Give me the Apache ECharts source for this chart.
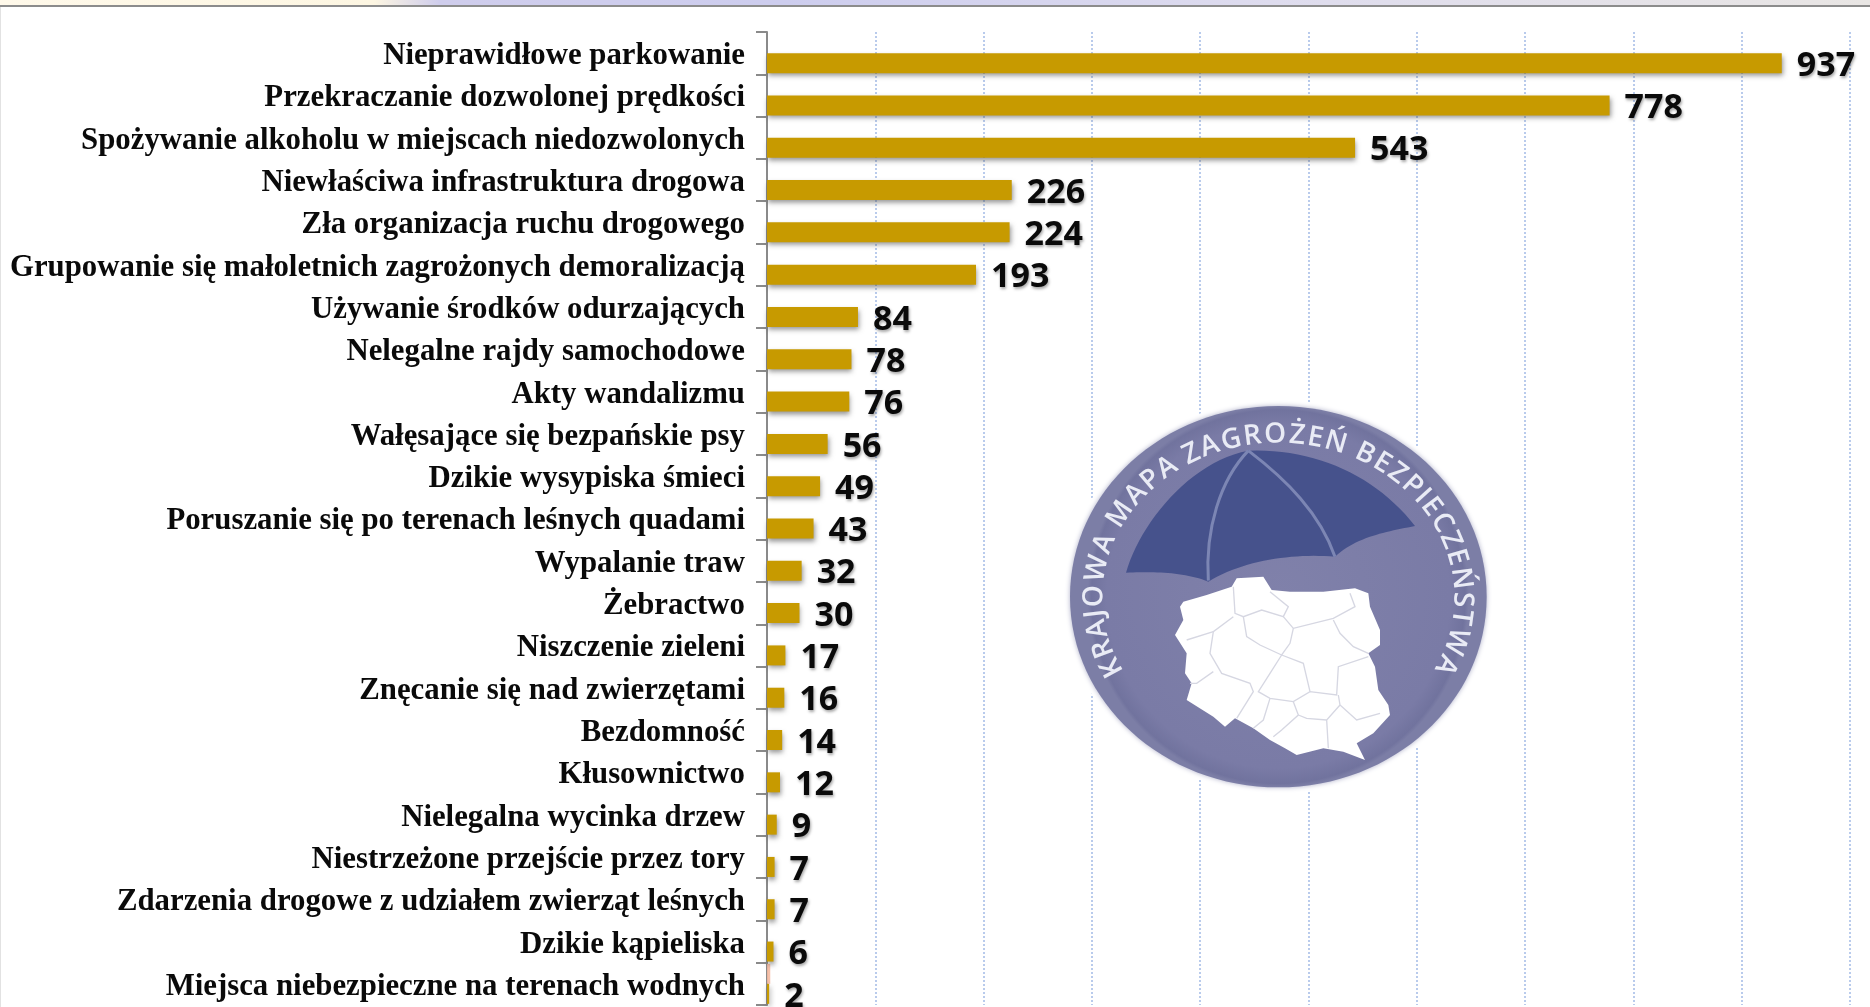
<!DOCTYPE html>
<html>
<head>
<meta charset="utf-8">
<style>html,body{margin:0;padding:0;background:#fff}#c{width:1870px;height:1007px}</style>
<script src="https://cdn.jsdelivr.net/npm/echarts@6/dist/echarts.min.js"></script>
</head>
<body>
<div id="c"></div>
<script>
const categories = ["Nieprawidłowe parkowanie","Przekraczanie dozwolonej prędkości","Spożywanie alkoholu w miejscach niedozwolonych","Niewłaściwa infrastruktura drogowa","Zła organizacja ruchu drogowego","Grupowanie się małoletnich zagrożonych demoralizacją","Używanie środków odurzających","Nelegalne rajdy samochodowe","Akty wandalizmu","Wałęsające się bezpańskie psy","Dzikie wysypiska śmieci","Poruszanie się po terenach leśnych quadami","Wypalanie traw","Żebractwo","Niszczenie zieleni","Znęcanie się nad zwierzętami","Bezdomność","Kłusownictwo","Nielegalna wycinka drzew","Niestrzeżone przejście przez tory","Zdarzenia drogowe z udziałem zwierząt leśnych","Dzikie kąpieliska","Miejsca niebezpieczne na terenach wodnych"];
const values = [937,778,543,226,224,193,84,78,76,56,49,43,32,30,17,16,14,12,9,7,7,6,2];
const otherValues = [null,null,null,null,null,null,null,null,null,null,null,null,null,null,null,null,null,null,null,null,null,null,3];

const logoText = "KRAJOWA MAPA ZAGROŻEŃ BEZPIECZEŃSTWA";
const polandOutline = [[430,635],[500,615],[575,590],[590,565],[670,560],[695,600],[750,605],[850,605],[945,595],[985,610],[990,650],[1020,720],[1020,765],[985,790],[1005,830],[1015,900],[1045,945],[1050,975],[1000,1030],[950,1060],[975,1110],[910,1085],[850,1075],[770,1095],[735,1075],[690,1050],[640,1015],[585,985],[555,1010],[520,980],[440,930],[455,880],[435,850],[440,790],[405,735],[430,690],[420,650]];
const polandBorders = [
 [[580,590],[585,670],[610,680],[665,660],[730,680],[745,650],[690,605]],
 [[730,680],[760,715],[880,685],[945,650],[930,610]],
 [[880,690],[900,730],[940,770],[985,790]],
 [[760,715],[750,760],[725,795],[660,765],[620,740],[610,680]],
 [[580,680],[520,725],[510,790],[545,850],[630,880],[640,905],[590,985]],
 [[520,725],[440,750]],
 [[520,845],[470,880],[450,880]],
 [[725,795],[690,850],[655,905],[690,925],[760,935],[810,905],[890,915],[895,830],[985,800]],
 [[725,795],[790,820],[810,905]],
 [[760,935],[775,975],[725,1020],[700,1040]],
 [[690,925],[670,990],[640,1015]],
 [[895,915],[900,945],[950,990],[1020,970]],
 [[900,945],[860,990],[865,1075]],
 [[860,990],[800,985],[775,975]]
];
const umbrellaCurves = [
 [[258,548],[300,400],[450,215],[625,182]],
 [[625,182],[830,175],[1010,260],[1125,408]],
 [[1125,408],[1040,425],[950,440],[885,500]],
 [[885,500],[760,490],[610,510],[505,575]],
 [[505,575],[430,545],[340,545],[258,548]]
];
const umbrellaRibs = [
 [[625,182],[540,270],[495,420],[505,572]],
 [[625,182],[740,270],[840,370],[885,500]]
];

function sample(c){
  const pts=[];
  for(let i=0;i<24;i++){
    const t=i/24,u=1-t;
    pts.push([0,1].map(k=>u*u*u*c[0][k]+3*u*u*t*c[1][k]+3*u*t*t*c[2][k]+t*t*t*c[3][k]));
  }
  return pts;
}
const umbrellaPts = umbrellaCurves.reduce((a,c)=>a.concat(sample(c)),[]);

// curved ring text placed along an ellipse, in logo-local coordinates
function ringText(){
  const cx=715,cy=622,rx=552,ry=488,fs=84;
  const ctx=document.createElement('canvas').getContext('2d');
  const font='600 '+fs+'px "Open Sans"';
  ctx.font=font;
  const start=-119*Math.PI/180,end=118*Math.PI/180;
  const N=2000,tab=[0];
  const P=a=>[cx+rx*Math.sin(a),cy-ry*Math.cos(a)];
  for(let i=1;i<=N;i++){
    const a=start+(end-start)*i/N,b=start+(end-start)*(i-1)/N;
    const p=P(a),q=P(b);
    tab.push(tab[i-1]+Math.hypot(p[0]-q[0],p[1]-q[1]));
  }
  const widths=[...logoText].map(ch=>ctx.measureText(ch).width);
  const total=widths.reduce((s,w)=>s+w,0);
  const k=tab[N]/total;
  let run=0;const out=[];
  [...logoText].forEach((ch,i)=>{
    const target=run+widths[i]*k/2;run+=widths[i]*k;
    if(ch===' ')return;
    let j=0;while(j<N&&tab[j]<target)j++;
    const a=start+(end-start)*j/N,p=P(a);
    const tx=rx*Math.cos(a),ty=ry*Math.sin(a);
    out.push({type:'text',x:p[0],y:p[1],rotation:-Math.atan2(ty,tx),
      style:{text:ch,font:font,fill:'#e9ebf5',align:'center',verticalAlign:'middle'}});
  });
  return out;
}

const chart = echarts.init(document.getElementById('c'));
chart.setOption({
  animation:false,
  backgroundColor:'#ffffff',
  grid:{left:767,top:32,width:1083,height:973,containLabel:false},
  xAxis:{type:'value',min:0,max:1000,interval:100,position:'top',
    axisLabel:{show:false},axisLine:{show:false},axisTick:{show:false},
    splitLine:{show:true,lineStyle:{color:'#b9cbec',width:2,type:[2,2]}}},
  yAxis:{type:'category',inverse:true,data:categories,
    axisLine:{show:true,lineStyle:{color:'#8a8a8a',width:2}},
    axisTick:{show:true,length:11,lineStyle:{color:'#8a8a8a',width:2}},
    axisLabel:{interval:0,margin:22,formatter:v=>'{t|'+v+'}',
      rich:{t:{padding:[6,0,0,0],fontFamily:'"Liberation Serif"',fontWeight:'bold',fontSize:30.8,color:'#0a0a0a'}}}},
  series:[
    {type:'bar',data:otherValues,barWidth:20,barGap:'0%',silent:true,
     itemStyle:{color:'#f4b9a0',opacity:.9}},
    {type:'bar',data:values,barWidth:20,barGap:'0%',silent:true,
     itemStyle:{color:'#c79a00',shadowColor:'rgba(60,60,60,.55)',shadowBlur:5,shadowOffsetY:3,shadowOffsetX:1},
     label:{show:true,position:'right',distance:15,offset:[0,3],fontFamily:'"Open Sans"',fontWeight:'bold',fontSize:34,color:'#0a0a0a',
       textShadowColor:'rgba(0,0,0,.35)',textShadowBlur:3,textShadowOffsetY:2,textShadowOffsetX:1}}
  ],
  graphic:{elements:[
    {type:'rect',z:50,shape:{x:0,y:0,width:1870,height:5},style:{fill:new echarts.graphic.LinearGradient(0,0,1,0,[
      {offset:0,color:'#fff9ea'},{offset:.2,color:'#fdf6e2'},{offset:.235,color:'#cfcdec'},{offset:.42,color:'#cdcdee'},{offset:.68,color:'#dedcee'},{offset:1,color:'#e9e6e4'}])}},
    {type:'rect',z:50,shape:{x:0,y:5,width:1870,height:2},style:{fill:'#8c8c8c'}},
    {type:'rect',z:50,shape:{x:0,y:7,width:1,height:1000},style:{fill:'#e2e2e2'}},
    {type:'group',x:1040,y:390,scaleX:1/3,scaleY:1/3,z:100,children:[
      {type:'ellipse',z:100,shape:{cx:715,cy:620,rx:645,ry:590},style:{fill:'#ffffff'}},
      {type:'ellipse',z:100,shape:{cx:715,cy:620,rx:625,ry:572},
        style:{fill:new echarts.graphic.RadialGradient(.5,.5,.5,[{offset:0,color:'#8081aa'},{offset:.9,color:'#7a7ba6'},{offset:.98,color:'#71739e'},{offset:1,color:'#7c7ea6'}]),
               shadowColor:'rgba(120,122,165,.6)',shadowBlur:5}},
      {type:'polygon',z:101,shape:{points:umbrellaPts},style:{fill:'#46528c'}},
      ...umbrellaRibs.map(r=>({type:'bezierCurve',z:102,shape:{x1:r[0][0],y1:r[0][1],cpx1:r[1][0],cpy1:r[1][1],cpx2:r[2][0],cpy2:r[2][1],x2:r[3][0],y2:r[3][1]},style:{stroke:'#7c86b4',lineWidth:9,fill:null}})),
      {type:'polygon',z:103,shape:{points:polandOutline},style:{fill:'#ffffff'}},
      ...polandBorders.map(b=>({type:'polyline',z:104,shape:{points:b},style:{stroke:'#d6d7e2',lineWidth:4,fill:null}})),
      ...ringText().map(t=>Object.assign(t,{z:105}))
    ]}
  ]}
});
</script>
</body>
</html>
